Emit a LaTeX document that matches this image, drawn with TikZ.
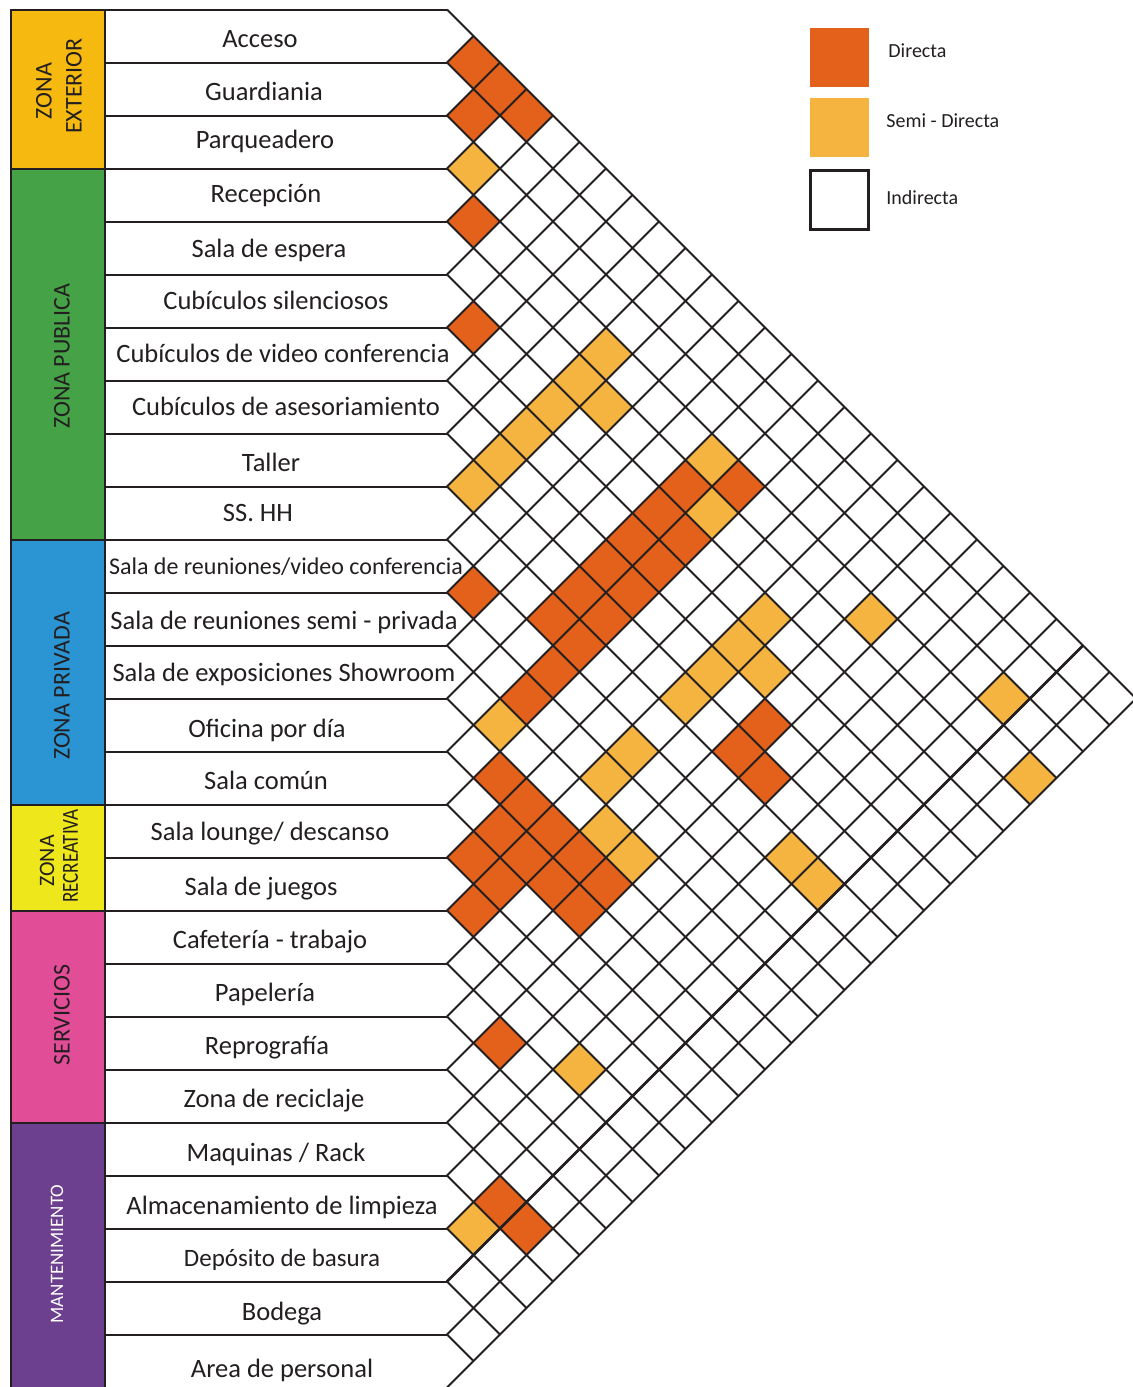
\documentclass[tikz,border=0pt]{standalone}
\usepackage{fontspec}
\usepackage{graphicx}
\setmainfont{Carlito}
\definecolor{cdir}{HTML}{E3611A}
\definecolor{csemi}{HTML}{F5B43F}
\definecolor{zext}{HTML}{F6B910}
\definecolor{zpub}{HTML}{45A246}
\definecolor{zpri}{HTML}{2B94D3}
\definecolor{zrec}{HTML}{EDE71B}
\definecolor{zser}{HTML}{E24D97}
\definecolor{zman}{HTML}{6D3F8F}
\definecolor{ink}{HTML}{231F20}
\begin{document}
\begin{tikzpicture}[x=0.5pt,y=-0.5pt,
  gridline/.style={draw=ink, line width=1pt},
  rowlabel/.style={anchor=base, font=\fontsize{13.25}{15}\selectfont, text=ink, inner sep=0pt},
  zonelabel/.style={rotate=90, font=\fontsize{12}{13}\selectfont, text=ink, inner sep=0pt},
  legtext/.style={anchor=base west, font=\fontsize{10}{12}\selectfont, text=ink, inner sep=0pt},
  dircell/.style={fill=cdir},
  semicell/.style={fill=csemi}]
\useasboundingbox (0,0) rectangle (1133,1387);
\fill[white] (0,0) rectangle (1133,1387);

% zone bars
\fill[zext] (11,9.5) rectangle (105,168.5);
\fill[zpub] (11,168.5) rectangle (105,539.5);
\fill[zpri] (11,539.5) rectangle (105,804.5);
\fill[zrec] (11,804.5) rectangle (105,910.5);
\fill[zser] (11,910.5) rectangle (105,1122.5);
\fill[zman] (11,1122.5) rectangle (105,1400);

% colored cells
\foreach \i/\j in {1/2,1/3,2/3,1/4,4/5,6/7,11/12,
  4/15,5/14,6/14,6/15,7/14,7/15,8/14,8/15,9/14,9/15,10/14,10/15,11/15,12/15,
  8/20,9/20,9/21,
  14/16,14/17,15/17,14/18,16/17,15/18,14/19,16/18,15/19,14/20,17/18,15/20,
  19/21,22/24,22/25}
  \fill[dircell] ({447+26.5*(\j-\i)-26.5},{9.5+26.5*(\i+\j-1)}) -- ++(26.5,-26.5) -- ++(26.5,26.5) -- ++(-26.5,26.5) -- cycle;
\foreach \i/\j in {3/4,4/10,5/10,6/10,7/10,8/10,9/10,5/11,
  4/14,5/15,13/15,
  6/18,7/18,8/18,9/18,7/19,
  11/18,12/18,13/19,13/20,
  4/20,3/24,4/26,10/23,10/24,
  18/23,23/24}
  \fill[semicell] ({447+26.5*(\j-\i)-26.5},{9.5+26.5*(\i+\j-1)}) -- ++(26.5,-26.5) -- ++(26.5,26.5) -- ++(-26.5,26.5) -- cycle;

% frame of zone bar and row lines
\draw[gridline] (11,1400) -- (11,9.5) -- (447,9.5);
\draw[gridline] (105,9.5) -- (105,1400);
\foreach \yy in {168.5,539.5,804.5,910.5,1122.5}
  \draw[gridline] (11,\yy) -- (105,\yy);
\foreach \k in {1,...,26}
  \draw[gridline] (105,{9.5+53*\k}) -- (447,{9.5+53*\k});

% matrix grid
\foreach \k in {0,...,25}
  \draw[gridline] (447,{9.5+53*\k}) -- ++({26.5*(26-\k)},{26.5*(26-\k)});
\foreach \k in {1,...,26}
  \draw[gridline] (447,{9.5+53*\k}) -- ++({26.5*\k},{-26.5*\k});
\draw[gridline, line width=1.3pt] (447,{9.5+53*24}) -- ++({26.5*24},{-26.5*24});

% row labels
\node[rowlabel] (r1) at (260,47) {Acceso};
\node[rowlabel] (r2) at (264,100) {Guardiania};
\node[rowlabel] (r3) at (265,148) {Parqueadero};
\node[rowlabel] (r4) at (266,202) {Recepción};
\node[rowlabel] (r5) at (269,257) {Sala de espera};
\node[rowlabel] (r6) at (276,309) {Cubículos silenciosos};
\node[rowlabel] (r7) at (283,362) {Cubículos de video conferencia};
\node[rowlabel] (r8) at (286,415) {Cubículos de asesoriamiento};
\node[rowlabel] (r9) at (271,471) {Taller};
\node[rowlabel] (r10) at (258,521) {SS. HH};
\node[rowlabel, font=\fontsize{12}{14}\selectfont] (r11) at (286,574) {Sala de reuniones/video conferencia};
\node[rowlabel] (r12) at (284,629) {Sala de reuniones semi - privada};
\node[rowlabel] (r13) at (284,681) {Sala de exposiciones Showroom};
\node[rowlabel] (r14) at (267,737) {Oficina por día};
\node[rowlabel] (r15) at (266,789) {Sala común};
\node[rowlabel] (r16) at (270,840) {Sala lounge/ descanso};
\node[rowlabel] (r17) at (261,895) {Sala de juegos};
\node[rowlabel] (r18) at (270,948) {Cafetería - trabajo};
\node[rowlabel] (r19) at (265,1001) {Papelería};
\node[rowlabel] (r20) at (267,1054) {Reprografía};
\node[rowlabel] (r21) at (274,1107) {Zona de reciclaje};
\node[rowlabel] (r22) at (276,1161) {Maquinas / Rack};
\node[rowlabel] (r23) at (282,1214) {Almacenamiento de limpieza};
\node[rowlabel, font=\fontsize{12.5}{14}\selectfont] (r24) at (282,1266) {Depósito de basura};
\node[rowlabel] (r25) at (282,1320) {Bodega};
\node[rowlabel] (r26) at (282,1377) {Area de personal};

% zone labels
\node[zonelabel] (z1a) at (44,91) {ZONA};
\node[zonelabel] (z1b) at (74,86) {EXTERIOR};
\node[zonelabel] (z2) at (62,356) {ZONA PUBLICA};
\node[zonelabel] (z3) at (62,686) {ZONA PRIVADA};
\node[zonelabel, font=\fontsize{11}{12}\selectfont] (z4a) at (47,861) {ZONA};
\node[zonelabel, font=\fontsize{11.5}{12}\selectfont] (z4b) at (70.5,856) {\scalebox{0.83}[1]{RECREATIVA}};
\node[zonelabel] (z5) at (62,1015) {SERVICIOS};
\node[zonelabel, text=white, font=\fontsize{9.5}{11}\selectfont] (z6) at (57,1254) {MANTENIMIENTO};

% legend
\fill[cdir] (810,28) rectangle (869,87);
\fill[csemi] (810,98) rectangle (869,157);
\draw[ink, line width=1.4pt] (810.5,170.5) rectangle (868.5,229.5);
\node[legtext] (ld) at (888,57) {Directa};
\node[legtext] (ls) at (886,127) {Semi - Directa};
\node[legtext] (li) at (886,204) {Indirecta};
\end{tikzpicture}
\end{document}
